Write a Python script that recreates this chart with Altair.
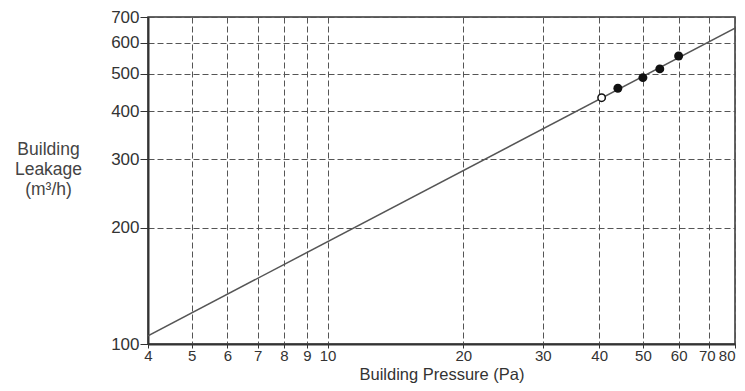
import altair as alt
import pandas as pd

# Fitted leakage line (end points)
line_pressure = [4, 80]
line_leakage = [105, 655]

# Measured points
pt_pressure = [40.5, 44, 50, 54.5, 60]
pt_leakage = [433, 458, 488, 514, 555]
pt_kind = ["open", "filled", "filled", "filled", "filled"]

x_ticks = [4, 5, 6, 7, 8, 9, 10, 20, 30, 40, 50, 60, 70, 80]
y_ticks = [100, 200, 300, 400, 500, 600, 700]

line_df = pd.DataFrame({"p": line_pressure, "q": line_leakage})
pt_df = pd.DataFrame({"p": pt_pressure, "q": pt_leakage, "kind": pt_kind})

FONT = "Liberation Sans"

xs = alt.Scale(type="log", domain=[4, 80], nice=False)
ys = alt.Scale(type="log", domain=[100, 700], nice=False)

x_axis = alt.Axis(
    values=x_ticks, format="d", title="Building Pressure (Pa)",
    grid=True, gridDash=[6, 3], gridColor="#555", gridWidth=1,
    domainColor="#333", domainWidth=2, tickColor="#333", tickSize=4,
    labelPadding=0, labelFont=FONT, labelFontSize=15, labelColor="#333",
    labelAlign={"expr": "datum.value == 80 ? 'right' : 'center'"},
    labelOffset={"expr": "datum.value == 70 ? -2 : 0"},
    titleFont=FONT, titleFontSize=16.5, titleFontWeight="normal", titleColor="#333",
    titleY=35, titleBaseline="alphabetic", labelFlush=False, labelOverlap=False,
)
y_axis = alt.Axis(
    values=y_ticks, format="d", title=["Building", "Leakage", "(m³/h)"],
    grid=True, gridDash=[6, 3], gridColor="#555", gridWidth=1,
    domainColor="#333", domainWidth=2, tickColor="#333", tickSize=8,
    labelPadding=1, labelFont=FONT, labelFontSize=17, labelColor="#333",
    titleFont=FONT, titleFontSize=17.5, titleFontWeight="normal", titleColor="#444",
    titleAngle=0, titleAlign="center", titleBaseline="alphabetic",
    titleX=-100, titleY=137, titleLineHeight=20, labelFlush=False, labelOverlap=False,
)

line = alt.Chart(line_df).mark_line(color="#555", strokeWidth=1.5, clip=True).encode(
    x=alt.X("p:Q", scale=xs, axis=x_axis),
    y=alt.Y("q:Q", scale=ys, axis=y_axis),
)

filled = alt.Chart(pt_df).transform_filter(alt.datum.kind == "filled").mark_point(
    shape="circle", filled=True, color="#111", size=80, opacity=1
).encode(x=alt.X("p:Q", scale=xs), y=alt.Y("q:Q", scale=ys))

opened = alt.Chart(pt_df).transform_filter(alt.datum.kind == "open").mark_point(
    shape="circle", filled=True, fill="white", stroke="#111", strokeWidth=1.5, size=55, opacity=1
).encode(x=alt.X("p:Q", scale=xs), y=alt.Y("q:Q", scale=ys))

chart = alt.layer(line, filled, opened).properties(
    width=587, height=327,
    autosize=alt.AutoSizeParams(type="none"),
    padding={"left": 140, "top": 9, "right": 2, "bottom": 39},
    background="white",
).configure_view(stroke="#333", strokeWidth=1.5)

chart.save("out.html", embed_options={"renderer": "svg", "actions": False})
